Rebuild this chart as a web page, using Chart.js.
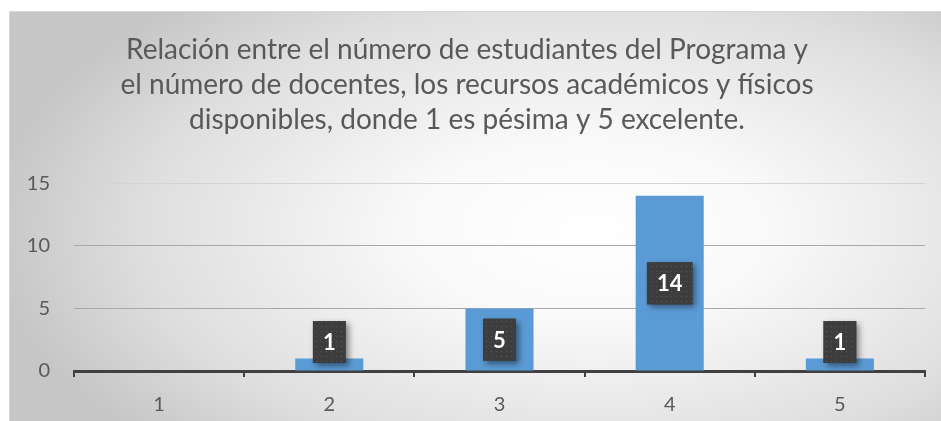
<!DOCTYPE html>
<html><head><meta charset="utf-8">
<script src="https://cdn.jsdelivr.net/npm/chart.js@4/dist/chart.umd.min.js"></script>
<style>html,body{margin:0;padding:0;background:#fff;}#wrap{width:941px;height:421px;}</style>
</head><body><div id="wrap"><canvas id="c" width="941" height="421"></canvas></div>
<script>
const titleLines = ["Relación entre el número de estudiantes del Programa y","el número de docentes, los recursos académicos y físicos","disponibles, donde 1 es pésima y 5 excelente."];
const categories = ["1","2","3","4","5"];
const values = [0,1,5,14,1];
const yTicks = [0,5,10,15];

const bgPlugin = {
  id:'bg',
  beforeDraw(chart){
    const ctx = chart.ctx;
    ctx.save();
    ctx.fillStyle = '#ffffff';
    ctx.fillRect(0,0,chart.width,chart.height);
    const x0=9,y0=11,x1=941,y1=421;
    ctx.beginPath(); ctx.rect(x0,y0,x1-x0,y1-y0); ctx.clip();
    const cx=590, cy=230, rx=600, ry=310;
    ctx.translate(cx,cy); ctx.scale(1, ry/rx);
    const g = ctx.createRadialGradient(0,0,0,0,0,rx);
    g.addColorStop(0,'#ffffff');
    g.addColorStop(0.3,'#f9f9f9');
    g.addColorStop(0.75,'#dedede');
    g.addColorStop(1,'#c6c6c6');
    ctx.fillStyle = g;
    ctx.fillRect(-cx-10,(-cy-10)*rx/ry,chart.width+20,(chart.height+20)*rx/ry);
    ctx.restore();
    ctx.save();
    ctx.strokeStyle='#d9d9d9'; ctx.lineWidth=1;
    ctx.beginPath(); ctx.moveTo(x0+0.5,y1); ctx.lineTo(x0+0.5,y0+0.5); ctx.lineTo(x1,y0+0.5); ctx.stroke();
    ctx.restore();
  }
};

function makePattern(ctx){
  const p = document.createElement('canvas'); p.width=5; p.height=5;
  const pc = p.getContext('2d');
  pc.fillStyle='#3d3d3d'; pc.fillRect(0,0,5,5);
  pc.fillStyle='#5a5a5a'; pc.fillRect(1,1,1,1);
  return ctx.createPattern(p,'repeat');
}

const labelPlugin = {
  id:'lbls',
  afterDatasetsDraw(chart){
    const ctx = chart.ctx;
    const meta = chart.getDatasetMeta(0);
    const yScale = chart.scales.y;
    const axisY = yScale.getPixelForValue(0);
    ctx.save();
    ctx.font = 'bold 22px Lato, "Open Sans", sans-serif';
    ctx.textAlign='center'; ctx.textBaseline='middle';
    meta.data.forEach((bar,i)=>{
      const v = values[i];
      if(!v) return;
      const txt = String(v);
      const w = ctx.measureText(txt).width + 20;
      const h = 42;
      let cyv = (bar.y + axisY)/2;
      cyv = Math.min(cyv, axisY - 29);
      const x = bar.x - w/2, y = cyv - h/2;
      ctx.save();
      ctx.shadowColor='rgba(0,0,0,0.45)'; ctx.shadowBlur=6; ctx.shadowOffsetX=3; ctx.shadowOffsetY=3;
      ctx.fillStyle='#3d3d3d'; ctx.fillRect(x,y,w,h);
      ctx.restore();
      ctx.fillStyle = makePattern(ctx); ctx.fillRect(x,y,w,h);
      ctx.fillStyle='#ffffff';
      ctx.fillText(txt, bar.x, cyv+1);
    });
    ctx.restore();
  }
};

new Chart(document.getElementById('c'),{
  type:'bar',
  data:{labels:categories,datasets:[{data:values,backgroundColor:'#5b9bd5',borderWidth:0,barPercentage:0.4,categoryPercentage:1}]},
  options:{
    responsive:false,animation:false,devicePixelRatio:1,
    layout:{padding:{left:9,right:16,top:11,bottom:0}},
    plugins:{
      legend:{display:false},tooltip:{enabled:false},
      title:{display:true,text:titleLines,color:'#595959',font:{family:'Lato, "Open Sans", sans-serif',size:28,weight:'normal',lineHeight:1.24},padding:{top:22,bottom:46}}
    },
    scales:{
      x:{
        grid:{display:true,drawOnChartArea:false,drawTicks:true,tickLength:6,color:'#404040',lineWidth:2,offset:true},
        border:{display:true,color:'#404040',width:3},
        ticks:{color:'#595959',font:{family:'Lato, "Open Sans", sans-serif',size:20},padding:16},
        afterFit(s){ s.height = 50; }
      },
      y:{
        min:0,max:15,
        afterBuildTicks(s){ s.ticks = yTicks.map(v=>({value:v})); },
        grid:{drawTicks:false,color:(c)=> c.tick && c.tick.value===15 ? '#d4d4d4' : '#a9a9a9',lineWidth:1},
        border:{display:false},
        ticks:{color:'#595959',font:{family:'Lato, "Open Sans", sans-serif',size:20},padding:24},
        afterFit(s){ s.width = 65; }
      }
    }
  },
  plugins:[bgPlugin,labelPlugin]
});
</script></body></html>
